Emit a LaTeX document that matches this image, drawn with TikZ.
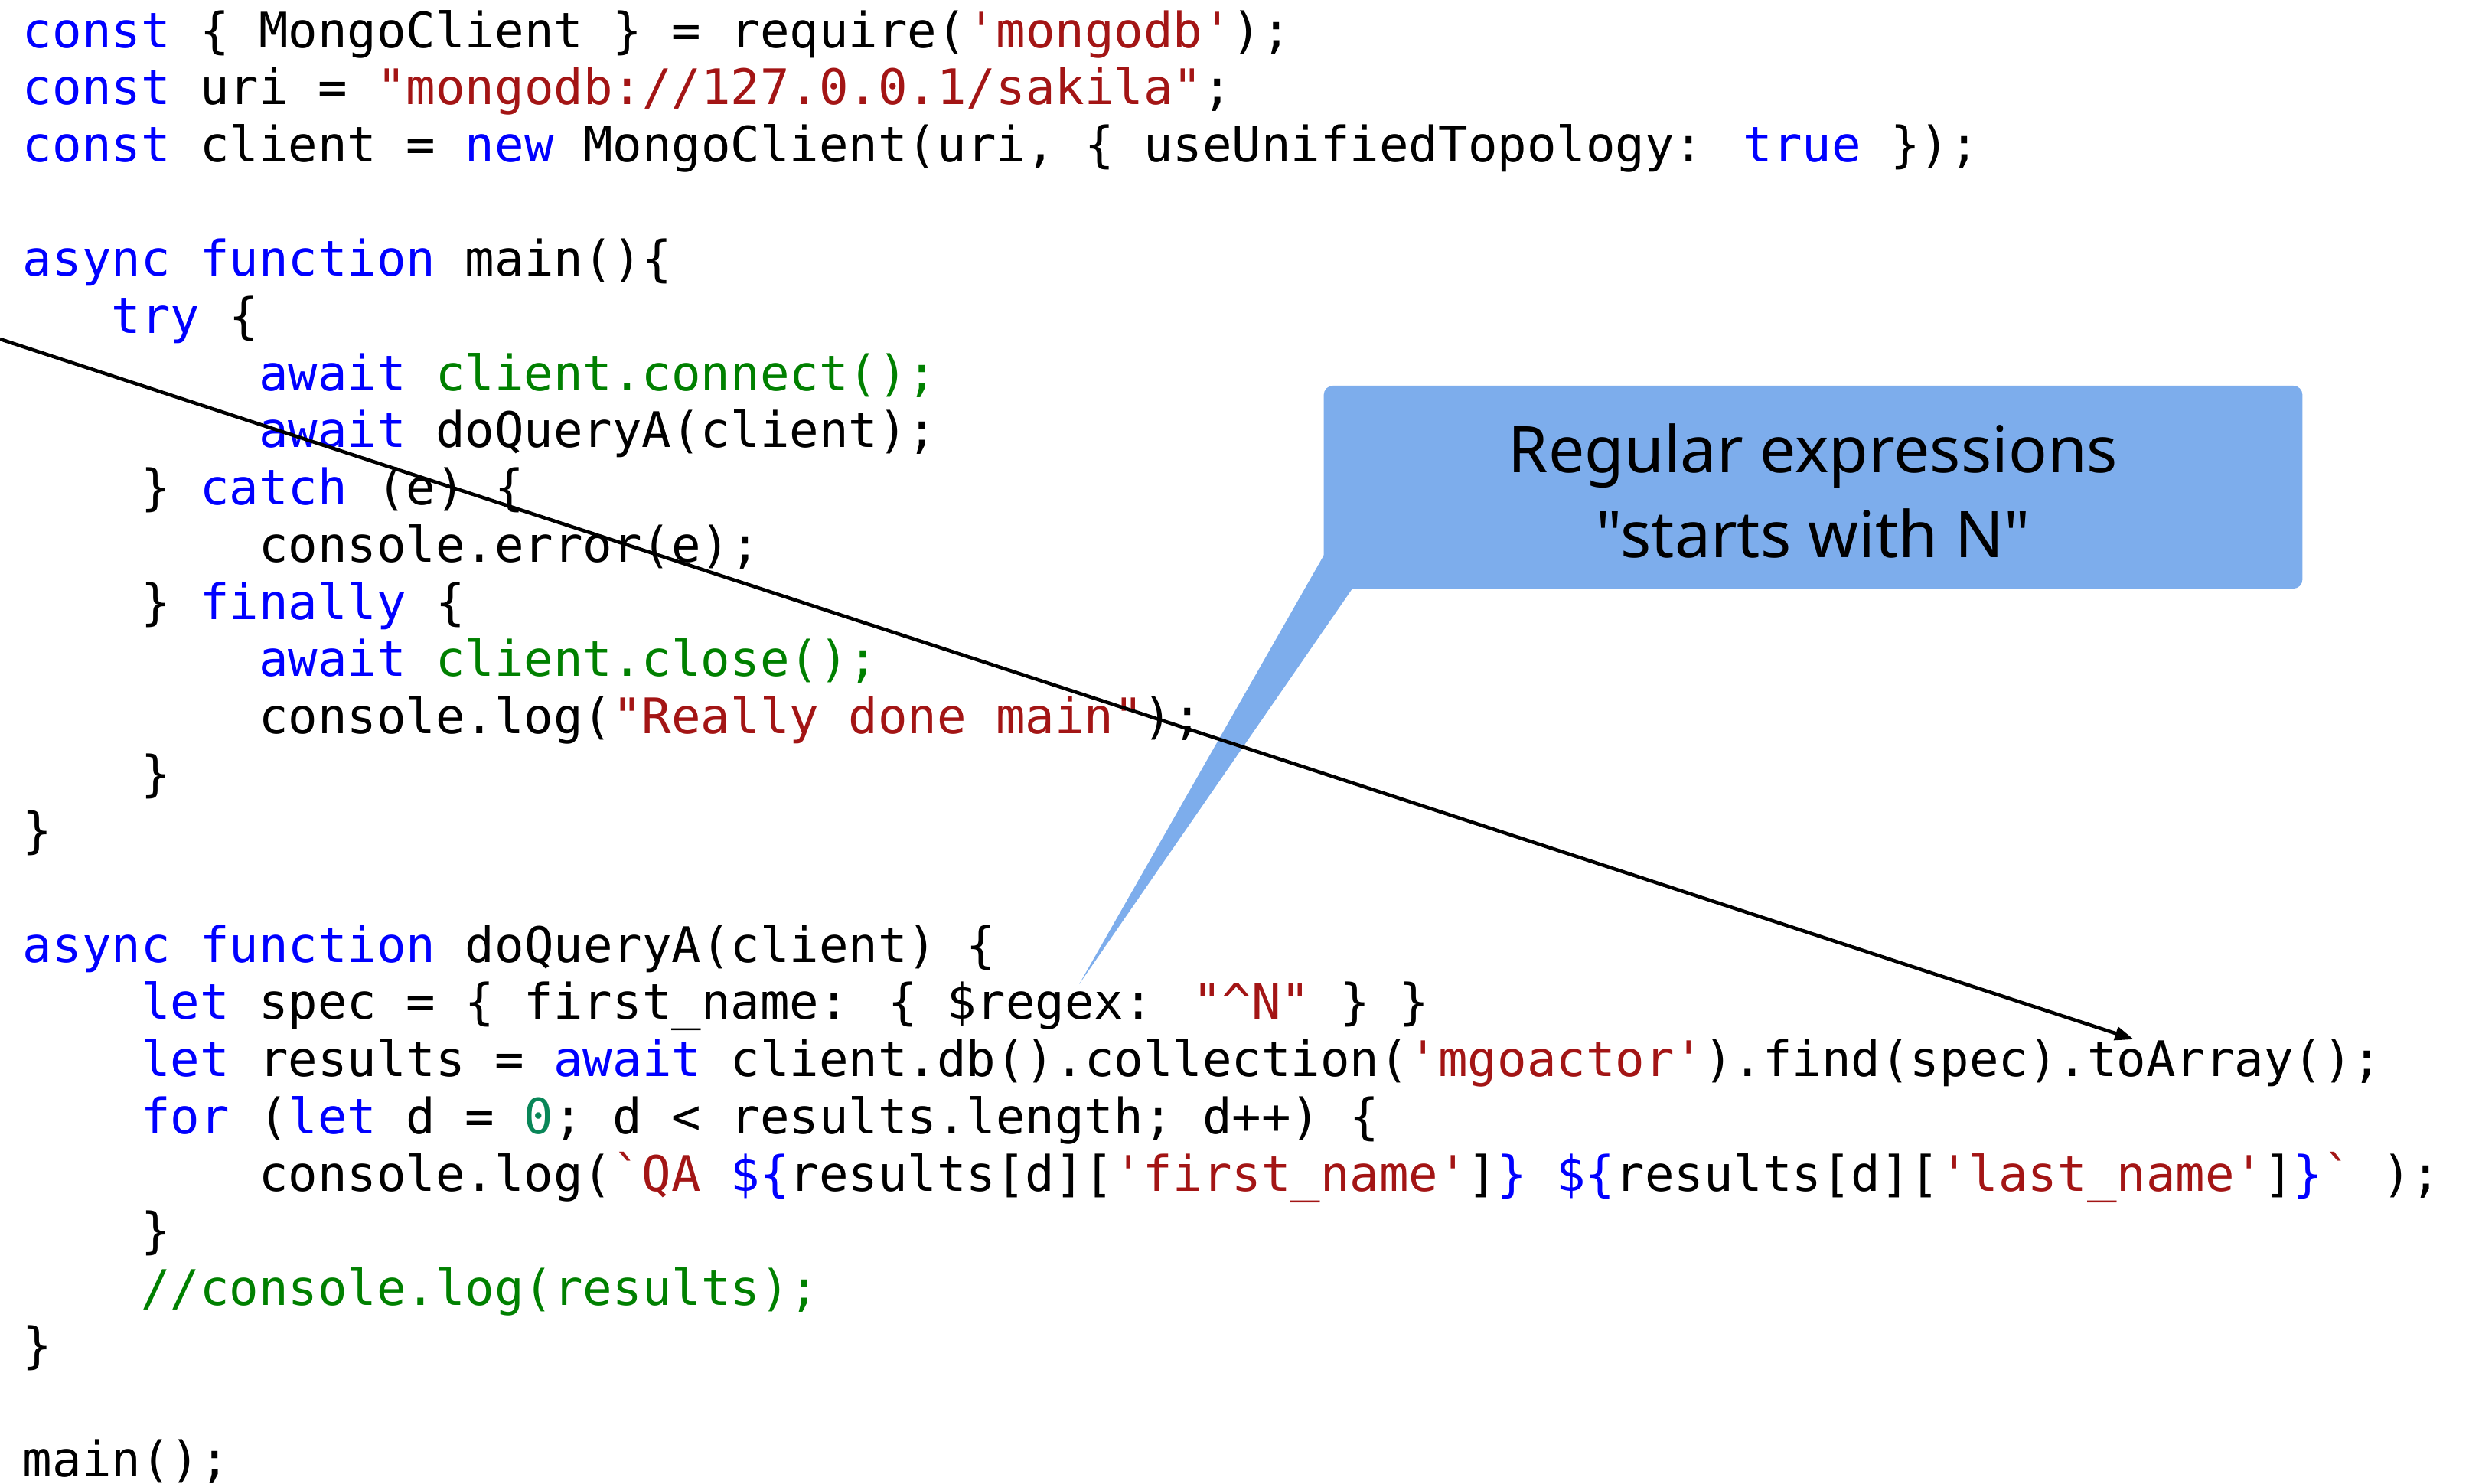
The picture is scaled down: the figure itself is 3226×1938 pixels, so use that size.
\documentclass[tikz,border=0pt]{standalone}
\usepackage{fontspec}
\usetikzlibrary{arrows.meta}
\newfontfamily\codefont{DejaVu Sans Mono}[Ligatures=TeXOff]
\newfontfamily\calloutfont{Noto Sans}
\definecolor{kwcol}{RGB}{0,0,255}
\definecolor{strcol}{RGB}{163,21,21}
\definecolor{cmtcol}{RGB}{0,128,0}
\definecolor{numcol}{RGB}{9,134,88}
\definecolor{calloutblue}{RGB}{125,173,236}
\newcommand\kwd[1]{\textcolor{kwcol}{#1}}
\newcommand\strg[1]{\textcolor{strcol}{#1}}
\newcommand\cmnt[1]{\textcolor{cmtcol}{#1}}
\newcommand\numb[1]{\textcolor{numcol}{#1}}
\begin{document}
\begin{tikzpicture}[x=0.01cm,y=-0.01cm,
  code/.style={anchor=base west,inner sep=0pt,outer sep=0pt,
    font=\codefont\fontsize{18.2pt}{20pt}\selectfont},
  calloutbox/.style={fill=calloutblue,draw=none,rounded corners=3.4pt,inner sep=0pt,
    minimum width=12.78cm,minimum height=2.65cm},
  calltext/.style={anchor=base,inner sep=0pt,
    font=\calloutfont\fontsize{23.9pt}{28pt}\selectfont},
  pointer/.style={line width=1.3pt,-{Triangle[length=7pt,width=5pt]}}]
\useasboundingbox (0,0) rectangle (3226,1938);
% code lines: x = 30 + indent*38.5, baseline = 62 + (line-1)*74.7
\node[code] (l1) at (30,62) {\kwd{const} \{ MongoClient \} = require(\strg{'mongodb'});};
\node[code] (l2) at (30,136.7) {\kwd{const} uri = \strg{"mongodb://127.0.0.1/sakila"};};
\node[code] (l3) at (30,211.4) {\kwd{const} client = \kwd{new} MongoClient(uri, \{ useUnifiedTopology: \kwd{true} \});};
\node[code] (l5) at (30,360.8) {\kwd{async} \kwd{function} main()\{};
\node[code] (l6) at (145.5,435.5) {\kwd{try} \{};
\node[code] (l7) at (338,510.2) {\kwd{await} \cmnt{client.connect();}};
\node[code] (l8) at (338,584.9) {\kwd{await} doQueryA(client);};
\node[code] (l9) at (184,659.6) {\} \kwd{catch} (e) \{};
\node[code] (l10) at (338,734.3) {console.error(e);};
\node[code] (l11) at (184,809) {\} \kwd{finally} \{};
\node[code] (l12) at (338,883.7) {\kwd{await} \cmnt{client.close();}};
\node[code] (l13) at (338,958.4) {console.log(\strg{"Really done main"});};
\node[code] (l14) at (184,1033.1) {\}};
\node[code] (l15) at (30,1107.8) {\}};
\node[code] (l17) at (30,1257.2) {\kwd{async} \kwd{function} doQueryA(client) \{};
\node[code] (l18) at (184,1331.9) {\kwd{let} spec = \{ first\_name: \{ \$regex: \strg{"\textasciicircum N"} \} \}};
\node[code] (l19) at (184,1406.6) {\kwd{let} results = \kwd{await} client.db().collection(\strg{'mgoactor'}).find(spec).toArray();};
\node[code] (l20) at (184,1481.3) {\kwd{for} (\kwd{let} d = \numb{0}; d < results.length; d++) \{};
\node[code] (l21) at (338,1556) {console.log(\strg{`QA }\kwd{\$\{}results[d][\strg{'first\_name'}]\kwd{\}} \kwd{\$\{}results[d][\strg{'last\_name'}]\kwd{\}}\strg{`} );};
\node[code] (l22) at (184,1630.7) {\}};
\node[code] (l23) at (184,1705.4) {\cmnt{//console.log(results);}};
\node[code] (l24) at (30,1780.1) {\}};
\node[code] (l26) at (30,1929.5) {main();};
% callout
\node[calloutbox] (callout) at (2369,636.5) {};
\fill[calloutblue] (1730,725) -- (1410,1286) -- (1767,769) -- (1767,725) -- cycle;
\node[calltext] (ct1) at (2369,617) {Regular expressions};
\node[calltext] (ct2) at (2369,728) {"starts with N"};
% arrow
\coordinate (arrowstart) at (0,443);
\coordinate (arrowend) at (2788,1358);
\draw[pointer] (arrowstart) -- (arrowend);
\end{tikzpicture}
\end{document}
